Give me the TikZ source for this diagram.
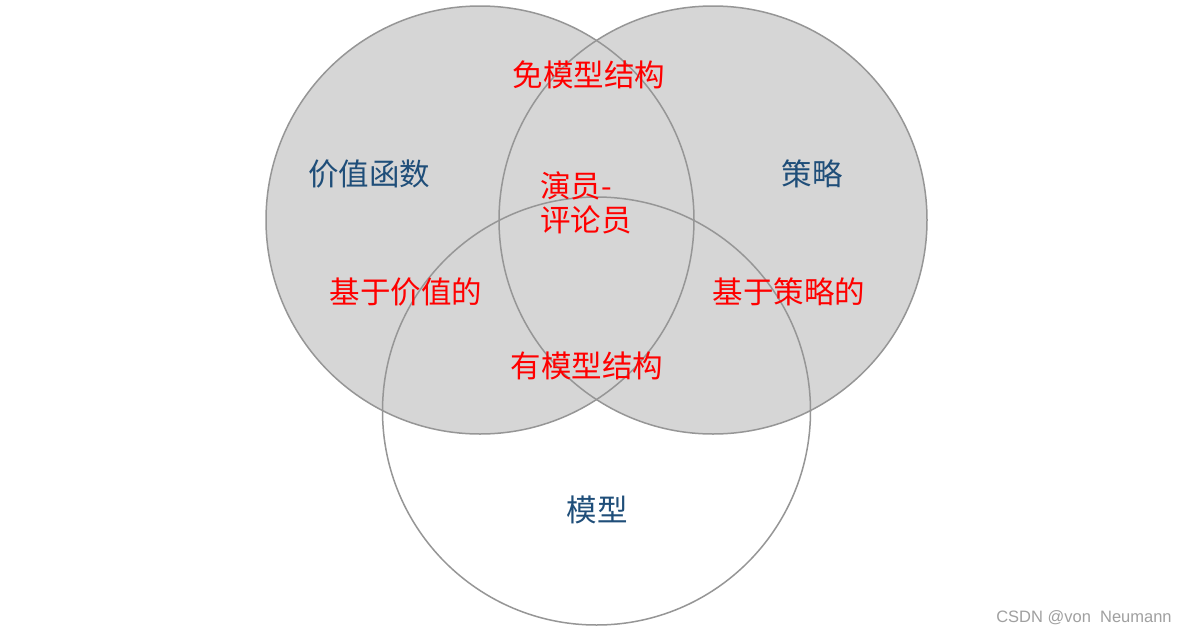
\documentclass[tikz,border=0pt]{standalone}
\usepackage{fontspec}
\newfontfamily\cjk{Noto Sans CJK SC}
\setmainfont{Liberation Sans}
\definecolor{circfill}{RGB}{214,214,214}
\definecolor{circline}{RGB}{150,150,150}
\definecolor{lblue}{RGB}{31,78,121}
\definecolor{lred}{RGB}{255,0,0}
\definecolor{wm}{RGB}{160,160,160}
\begin{document}
\begin{tikzpicture}[x=1pt,y=-1pt,
  circ/.style={draw=circline,line width=1.5pt},
  bluelbl/.style={text=lblue,font=\cjk\fontsize{30.5}{34}\selectfont,inner sep=0pt},
  redlbl/.style={text=lred,font=\cjk\fontsize{30.5}{34}\selectfont,inner sep=0pt}]
\useasboundingbox[fill=white] (0,0) rectangle (1189,635);
\coordinate (cL) at (480,220);
\coordinate (cR) at (713,220);
\coordinate (cB) at (596.5,411);
\fill[circfill] (cL) circle[radius=214];
\fill[circfill] (cR) circle[radius=214];
\draw[circ] (cL) circle[radius=214];
\draw[circ] (cR) circle[radius=214];
\draw[circ] (cB) circle[radius=214];
\node[bluelbl] (vf) at (369,174) {价值函数};
\node[bluelbl] (pol) at (812,174) {策略};
\node[bluelbl] (mod) at (597,510) {模型};
\node[redlbl] (mf) at (589,75) {免模型结构};
\node[redlbl,align=left] (ac) at (586,203) {演员-\\评论员};
\node[redlbl] (vb) at (406,292) {基于价值的};
\node[redlbl] (pb) at (789,292) {基于策略的};
\node[redlbl] (mb) at (587,366) {有模型结构};
\node[text=wm,font=\fontsize{16.5}{20}\selectfont,inner sep=0pt] (wmk) at (1084,618) {CSDN @von\ \ Neumann};
\end{tikzpicture}
\end{document}
